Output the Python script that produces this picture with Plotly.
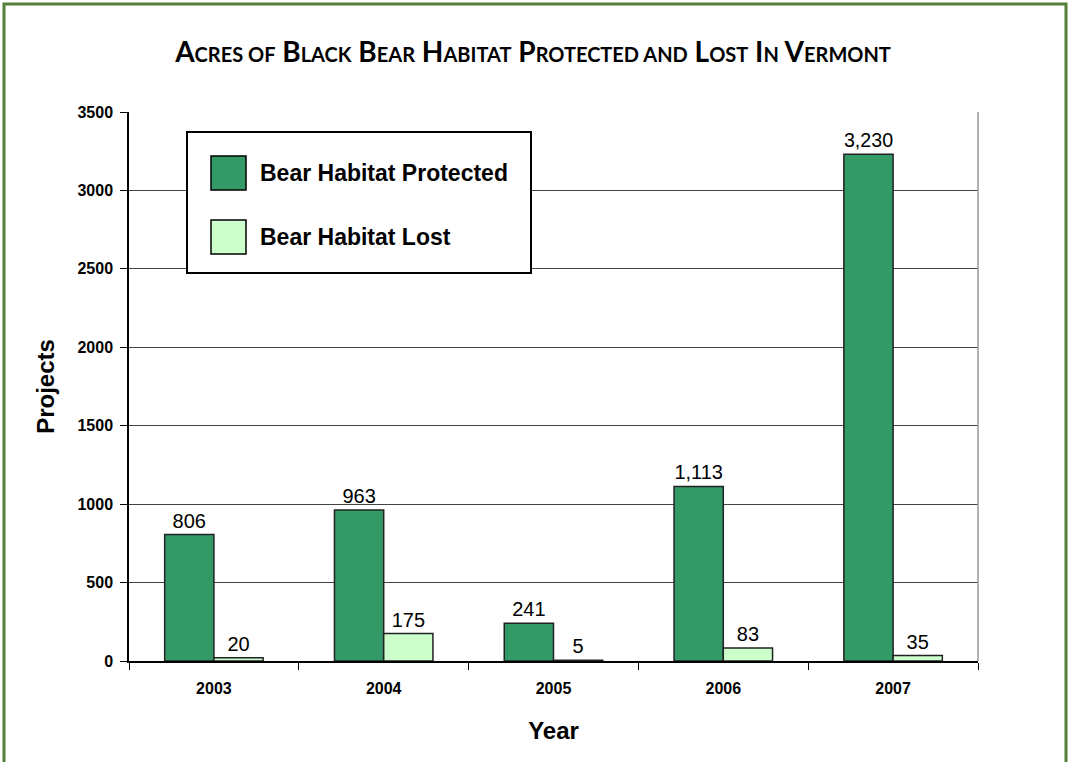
import plotly.graph_objects as go

years = ["2003", "2004", "2005", "2006", "2007"]
protected = [806, 963, 241, 1113, 3230]
lost = [20, 175, 5, 83, 35]
series_names = ["Bear Habitat Protected", "Bear Habitat Lost"]
colors = ["#339966", "#CCFFCC"]
y_ticks = [0, 500, 1000, 1500, 2000, 2500, 3000, 3500]

W, H = 1068, 762
PL, PR, PT, PB = 129, 978, 112, 661  # plot area in page pixels
pw, ph = PR - PL, PB - PT
L, T = PL, PT
R = W - L - pw
B = H - T - ph


def px_x(p):
    return (p - PL) / pw


def px_y(p):
    return (PB - p) / ph


fig = go.Figure()
for name, vals, col in zip(series_names, [protected, lost], colors):
    fig.add_trace(go.Bar(
        x=years, y=vals, name=name,
        marker=dict(color=col, line=dict(color="#222222", width=1.5)),
        texttemplate="%{y:,}", textposition="outside", cliponaxis=False,
        textfont=dict(family="Liberation Sans, Arial", size=20, color="#000000"),
        showlegend=False,
    ))

sc = "font-size:20px"
title = (f"A<span style='{sc}'>CRES OF</span> B<span style='{sc}'>LACK</span> "
         f"B<span style='{sc}'>EAR</span> H<span style='{sc}'>ABITAT</span> "
         f"P<span style='{sc}'>ROTECTED AND</span> L<span style='{sc}'>OST</span> "
         f"I<span style='{sc}'>N</span> V<span style='{sc}'>ERMONT</span>")

shapes = [
    dict(type="rect", xref="paper", yref="paper",
         x0=px_x(4), x1=px_x(1066), y0=px_y(790), y1=px_y(4),
         line=dict(color="#557f37", width=3), fillcolor="rgba(0,0,0,0)", layer="below"),
    dict(type="rect", xref="paper", yref="paper",
         x0=px_x(187), x1=px_x(531), y0=px_y(273), y1=px_y(132),
         line=dict(color="#000000", width=2), fillcolor="#ffffff", layer="above"),
    dict(type="line", xref="paper", yref="paper", x0=1, x1=1, y0=0, y1=1,
         line=dict(color="#999999", width=1.5)),
]
annotations = []
for i, (name, col) in enumerate(zip(series_names, colors)):
    top = 156 + i * 64
    shapes.append(dict(type="rect", xref="paper", yref="paper",
                       x0=px_x(211), x1=px_x(246), y0=px_y(top + 34), y1=px_y(top),
                       line=dict(color="#000000", width=1.5), fillcolor=col, layer="above"))
    annotations.append(dict(xref="paper", yref="paper", x=px_x(258), y=px_y(top + 17),
                            text=f"<b>{name}</b>", showarrow=False, xanchor="left",
                            yanchor="middle",
                            font=dict(family="Liberation Sans, Arial", size=23, color="#000")))

fig.update_layout(
    width=W, height=H,
    margin=dict(l=L, r=R, t=T, b=B),
    paper_bgcolor="#ffffff", plot_bgcolor="#ffffff",
    barmode="group", bargap=0.42, bargroupgap=0,
    title=dict(text=f"<b>{title}</b>", x=px_x(533), xref="paper", xanchor="center",
               y=1 - 52 / H, yanchor="middle",
               font=dict(family="Lato, Noto Sans", size=28, color="#000000")),
    xaxis=dict(
        type="category", tickson="boundaries", ticks="outside", ticklen=7,
        tickcolor="#000", showline=True, linecolor="#000", linewidth=1.5,
        showgrid=False, ticklabelstandoff=12,
        tickfont=dict(family="Liberation Sans, Arial", size=16, color="#000", weight="bold"),
        title=dict(text="<b>Year</b>", standoff=26,
                   font=dict(family="Liberation Sans, Arial", size=24, color="#000")),
    ),
    yaxis=dict(
        range=[0, 3500], tickvals=y_ticks, ticks="outside", ticklen=7,
        tickcolor="#000", showline=True, linecolor="#000", linewidth=1.5,
        showgrid=True, gridcolor="#444444", gridwidth=1, zeroline=False,
        ticklabelstandoff=4,
        tickfont=dict(family="Liberation Sans, Arial", size=16, color="#000", weight="bold"),
        title=dict(text="<b>Projects</b>", standoff=16,
                   font=dict(family="Liberation Sans, Arial", size=24, color="#000")),
    ),
    shapes=shapes,
    annotations=annotations,
)

fig.write_html("out.html",
               config={"displayModeBar": False},
               post_script="document.body.style.margin='0';")
